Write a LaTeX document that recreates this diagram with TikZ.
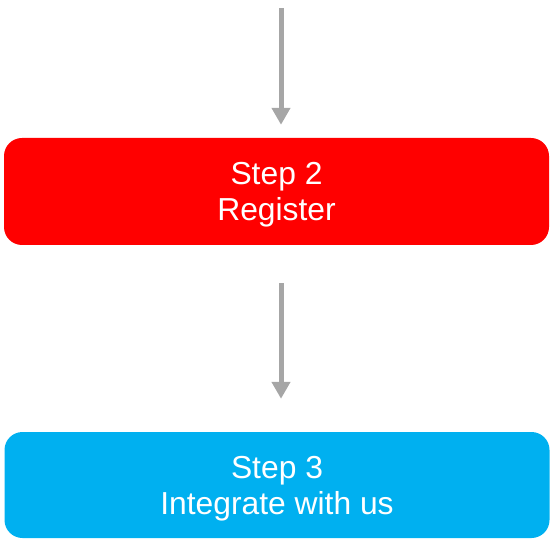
\documentclass[tikz,border=0pt]{standalone}
\usepackage{fontspec}
\setmainfont{Liberation Sans}
\usepackage{xcolor}
\usepackage{tikz}
\usetikzlibrary{arrows.meta}
\usetikzlibrary{positioning}

\definecolor{stepred}{HTML}{FF0000}
\definecolor{stepblue}{HTML}{00B0F0}
\definecolor{flowgray}{HTML}{A6A6A6}

\begin{document}
\begin{tikzpicture}[x=1pt, y=1pt,
        stepbox/.style = {rectangle, rounded corners = 18pt, draw = none,
            minimum width = 545pt, minimum height = 107pt, inner sep = 0pt,
            align = center, text = white, text depth = 0pt,
            font = \fontsize{31.8}{36}\selectfont},
        flow/.style = {draw = flowgray, line width = 5pt,
            -{Triangle[length = 17pt, width = 18pt]}}]
        \useasboundingbox (0, 0) rectangle (551, 541);

        \coordinate (top) at (281, 533);

        \node[stepbox, fill = stepred] (register) at (276.5, 349.5) {Step 2\\Register};
        \node[stepbox, fill = stepblue, minimum height = 106pt] (integrate) at (277, 56)
            {Step 3\\Integrate with us};

        \draw[flow, shorten >= 13pt] (top) -- (top |- register.north);
        \draw[flow, shorten <= 38pt, shorten >= 33pt]
            (top |- register.south) -- (top |- integrate.north);
    \end{tikzpicture}
\end{document}
